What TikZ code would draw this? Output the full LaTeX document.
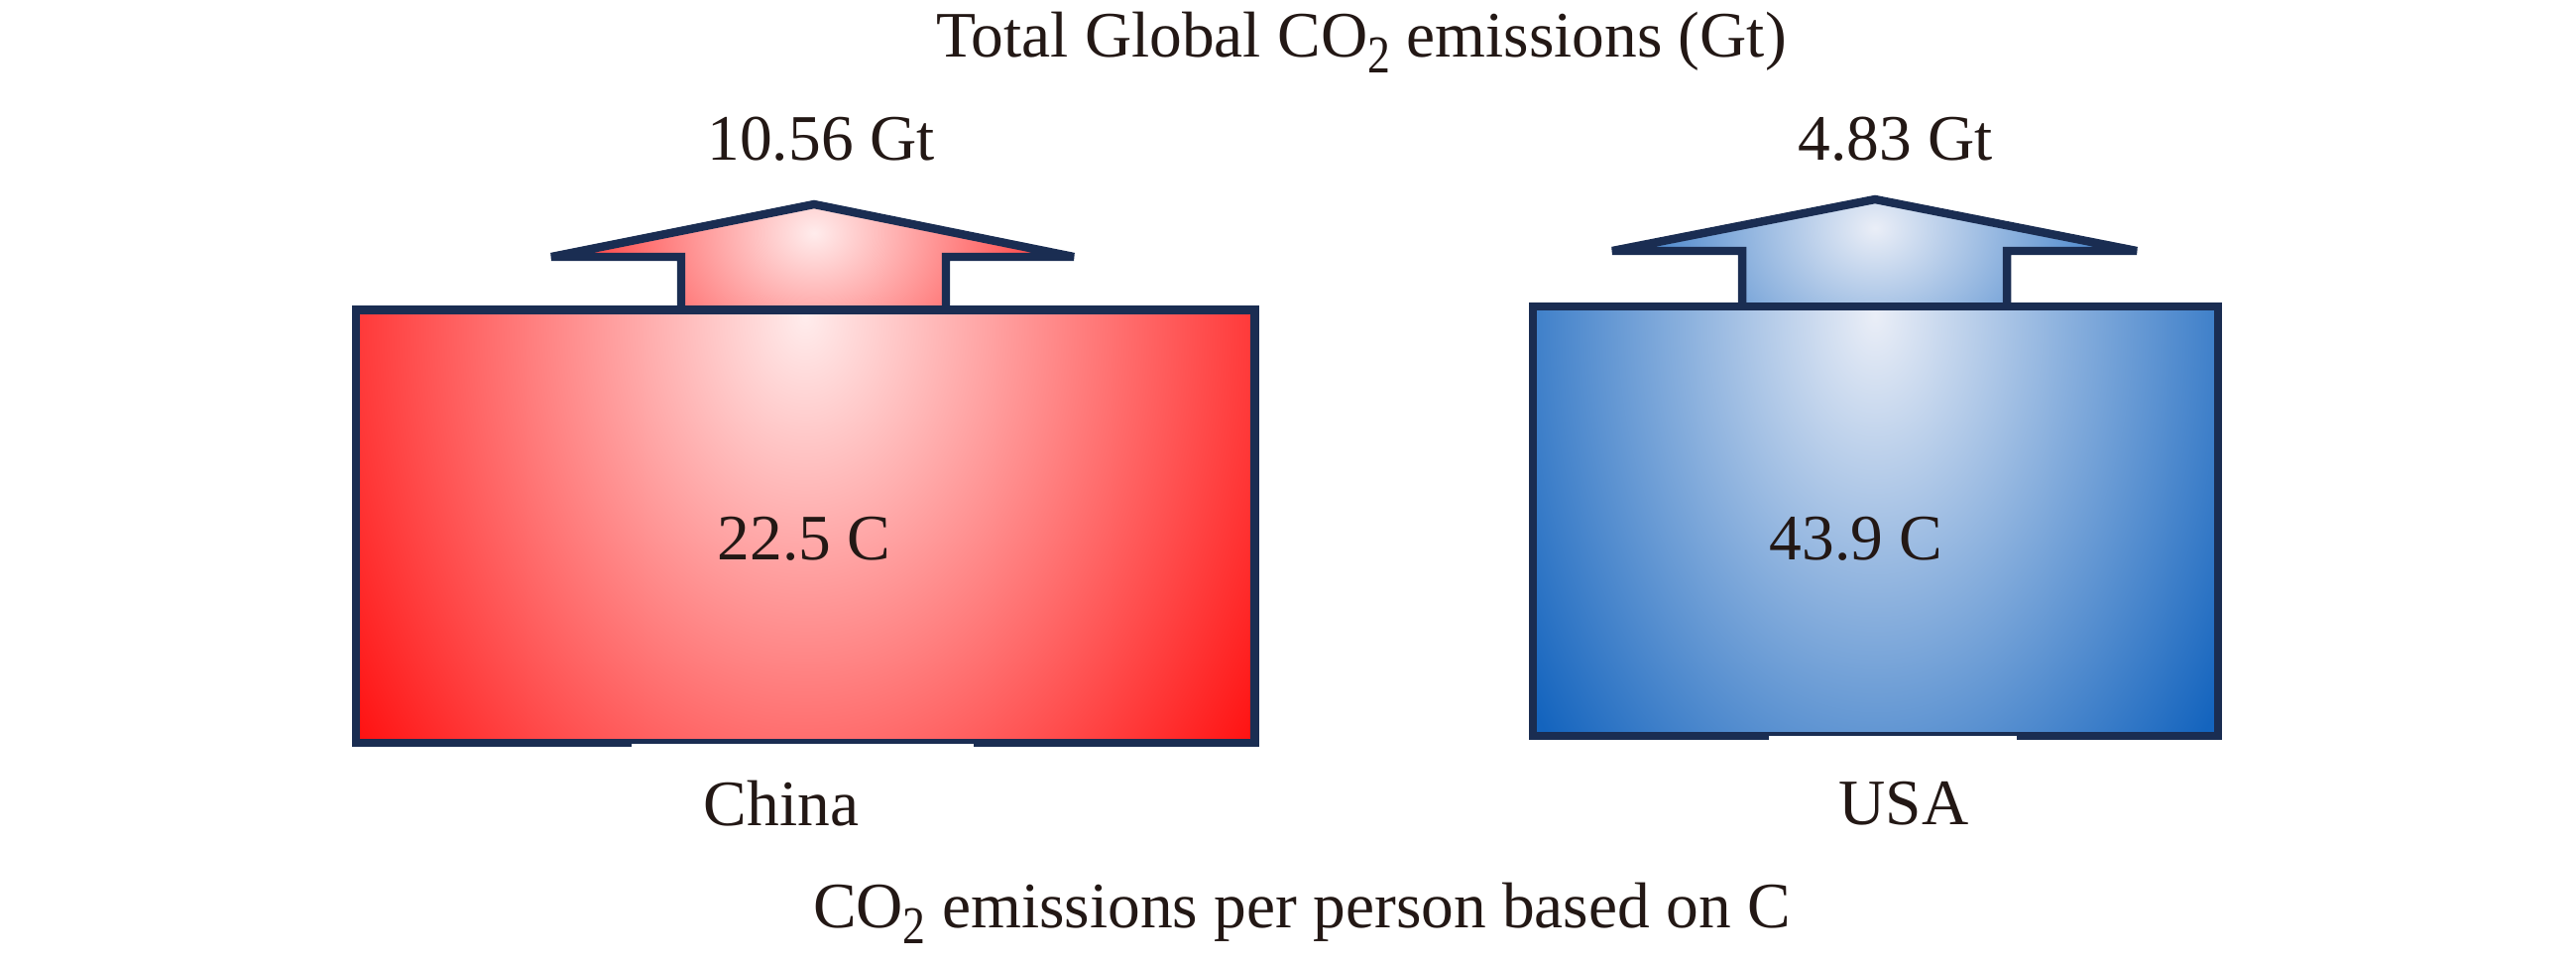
\documentclass[tikz,border=0pt]{standalone}
\usepackage{fontspec}
\setmainfont{Liberation Serif}
\usepackage{graphicx}
\usepackage{tikz}
\usetikzlibrary{positioning}
\definecolor{edgenavy}{RGB}{26,45,82}
\definecolor{inkbrown}{RGB}{35,24,21}
\definecolor{chinared}{RGB}{255,14,14}
\definecolor{chinapale}{RGB}{255,236,236}
\definecolor{usablue}{RGB}{20,100,190}
\definecolor{usapale}{RGB}{234,238,247}
\newcommand{\subtwo}{\raisebox{-4.6pt}{\scalebox{0.7}[0.82]{2}}}

\begin{document}
\begin{tikzpicture}[
    x=0.01cm, y=-0.01cm,
    txt/.style={anchor=base, inner sep=0pt, text=inkbrown, font=\fontsize{18.6}{22}\selectfont},
    outline/.style={draw=edgenavy, line width=2.4pt},
    panel/.style={outline, rectangle, inner sep=0pt}
]
    \useasboundingbox (0,0) rectangle (2598,972);

    % China arrow
    \begin{scope}
        \clip (687,312) -- (687,259) -- (556,259) -- (821,206) -- (1083,259) -- (954,259) -- (954,312) -- cycle;
        \fill[chinared] (556,206) rectangle (1083,312);
        \shade[inner color=chinapale, outer color=chinared] (821,235) ellipse [x radius=3.1cm, y radius=2.6cm];
    \end{scope}
    \draw[outline] (687,312) -- (687,259) -- (556,259) -- (821,206) -- (1083,259) -- (954,259) -- (954,312);

    % USA arrow
    \begin{scope}
        \clip (1757,309) -- (1757,253) -- (1626,253) -- (1891,201) -- (2155,253) -- (2024,253) -- (2024,309) -- cycle;
        \fill[usablue] (1626,201) rectangle (2155,309);
        \shade[inner color=usapale, outer color=usablue] (1891,230) ellipse [x radius=3.1cm, y radius=2.6cm];
    \end{scope}
    \draw[outline] (1757,309) -- (1757,253) -- (1626,253) -- (1891,201) -- (2155,253) -- (2024,253) -- (2024,309);

    % China box
    \begin{scope}
        \clip (359,312.5) rectangle (1265,749);
        \fill[chinared] (359,312.5) rectangle (1265,749);
        \shade[inner color=chinapale, outer color=chinared] (812,320) ellipse [x radius=5.6cm, y radius=7.5cm];
    \end{scope}
    \node[panel, minimum width=9.06cm, minimum height=4.365cm] (chinabox) at (812,530.75) {};
    \fill[white] (637,750) rectangle (982,755);

    % USA box
    \begin{scope}
        \clip (1546,309) rectangle (2237,742);
        \fill[usablue] (1546,309) rectangle (2237,742);
        \shade[inner color=usapale, outer color=usablue] (1891,318) ellipse [x radius=4.3cm, y radius=6.6cm];
    \end{scope}
    \node[panel, minimum width=6.91cm, minimum height=4.33cm] (usabox) at (1891.5,525.5) {};
    \fill[white] (1784,741.7) rectangle (2034,748);

    % texts
    \node[txt] (title) at (1373,57) {Total Global CO\subtwo\ emissions (Gt)};
    \node[txt] (chinatotal) at (828,161) {10.56 Gt};
    \node[txt] (usatotal) at (1912,161) {4.83 Gt};
    \node[txt] (chinapp) at (811,564) {22.5 C};
    \node[txt] (usapp) at (1872,564) {43.9 C};
    \node[txt] (chinaname) at (788,832) {China};
    \node[txt] (usaname) at (1920,831) {USA};
    \node[txt] (footer) at (1313,935) {CO\subtwo\ emissions per person based on C};

\end{tikzpicture}
\end{document}
